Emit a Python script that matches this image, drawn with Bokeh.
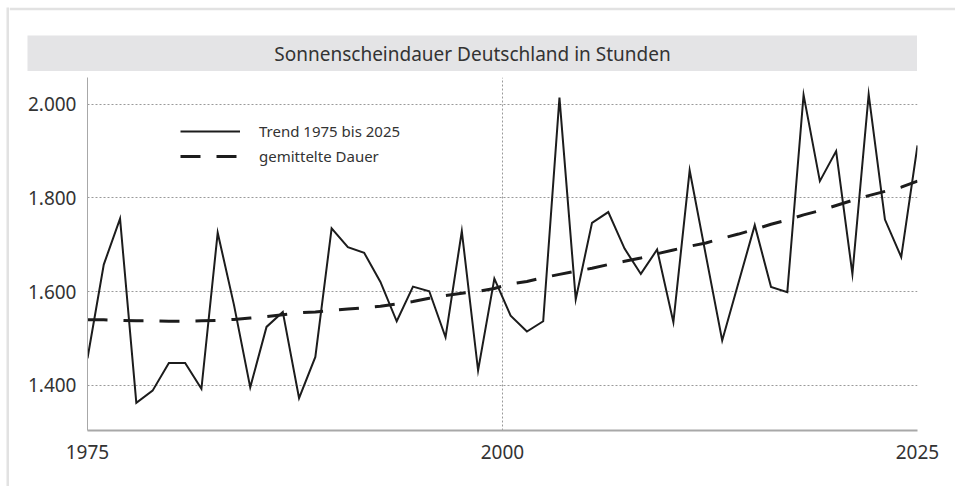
from bokeh.plotting import figure
from bokeh.models import Range1d, FixedTicker, Legend, LegendItem, Column, Row
from bokeh.core.properties import value
from bokeh.embed import file_html
from bokeh.resources import INLINE

# ---- data ----
title_text = "Sonnenscheindauer Deutschland in Stunden"
years = list(range(1974, 2026))
sunshine = [1458, 1658, 1756, 1363, 1389, 1448, 1448, 1393, 1726, 1572,
            1396, 1525, 1557, 1373, 1461, 1735, 1695, 1683, 1621, 1537,
            1611, 1601, 1503, 1729, 1432, 1628, 1549, 1515, 1537, 2014,
            1584, 1747, 1770, 1692, 1638, 1690, 1535, 1859, 1677, 1496,
            1619, 1742, 1610, 1599, 2020, 1836, 1900, 1638, 2021, 1754,
            1674, 1912]
trend = [1540, 1540, 1539, 1538, 1538, 1537, 1537, 1538, 1539, 1541,
         1544, 1547, 1551, 1555, 1557, 1560, 1563, 1566, 1569, 1574,
         1579, 1586, 1592, 1597, 1601, 1607, 1617, 1622, 1630, 1637,
         1644, 1650, 1658, 1665, 1672, 1681, 1689, 1697, 1704, 1714,
         1723, 1733, 1744, 1753, 1764, 1773, 1784, 1795, 1805, 1814,
         1823, 1836]
legend_labels = ["Trend 1975 bis 2025", "gemittelte Dauer"]
y_ticks = [1400, 1600, 1800, 2000]
y_tick_labels = ["1.400", "1.600", "1.800", "2.000"]
x_tick_positions = [1974, 1999.5, 2025]
x_tick_labels = ["1975", "2000", "2025"]

FONT = "Noto Sans"
TXT = "#333333"
FRAME_GREY = "#e2e2e2"
BAND_GREY = "#e4e4e6"


def blank(width, height, color, border_color=None, top=0, **kw):
    f = figure(width=width, height=height, x_range=Range1d(0, 1),
               y_range=Range1d(0, 1), output_backend="svg",
               toolbar_location=None, x_axis_location=None,
               y_axis_location=None, min_border=0, min_border_left=0,
               min_border_right=0, min_border_top=top, min_border_bottom=0,
               background_fill_color=color,
               border_fill_color=border_color or color,
               outline_line_color=None, **kw)
    f.grid.visible = False
    return f


# ---- card frame: grey left line, and grey top line above a white header ----
left_strip = blank(3, 479, FRAME_GREY)
header = blank(946, 28, "white", border_color=FRAME_GREY, top=3)

# ---- title band ----
band = blank(890, 36, BAND_GREY, margin=(0, 0, 0, 18))
band.text(x=[0.5], y=[0.5], text=[title_text], text_align="center",
          text_baseline="middle", text_font=value(FONT),
          text_font_size="19px", text_color=TXT)

# ---- main chart ----
p = figure(width=938, height=399,
           x_range=Range1d(1974, 2025), y_range=Range1d(1304, 2057),
           output_backend="svg", toolbar_location=None,
           min_border_left=78, min_border_right=30,
           min_border_top=6, min_border_bottom=40,
           outline_line_color=None, background_fill_color="white")

l_trend = p.line(years, sunshine, line_color="#1c1c1c", line_width=2,
                 line_join="miter")
l_avg = p.line(years, trend, line_color="#1c1c1c", line_width=3,
               line_dash="20 16")

p.xaxis.ticker = FixedTicker(ticks=x_tick_positions)
p.xaxis.major_label_overrides = dict(zip(x_tick_positions, x_tick_labels))
p.yaxis.ticker = FixedTicker(ticks=y_ticks)
p.yaxis.major_label_overrides = dict(zip(y_ticks, y_tick_labels))

for ax in (p.xaxis[0], p.yaxis[0]):
    ax.major_tick_line_color = None
    ax.minor_tick_line_color = None
    ax.major_label_text_font = FONT
    ax.major_label_text_font_size = "19px"
    ax.major_label_text_color = TXT
p.xaxis.axis_line_color = "#a8a8a8"
p.xaxis.axis_line_width = 2
p.yaxis.axis_line_color = "#a8a8a8"
p.yaxis.axis_line_width = 1
p.xaxis.major_label_standoff = 8
p.yaxis.major_label_standoff = 5

p.ygrid.ticker = FixedTicker(ticks=y_ticks)
p.xgrid.ticker = FixedTicker(ticks=x_tick_positions[1:])
for g in (p.xgrid[0], p.ygrid[0]):
    g.grid_line_color = "#9a9a9a"
    g.grid_line_dash = "2 2"
    g.grid_line_width = 1

legend = Legend(items=[LegendItem(label=legend_labels[0], renderers=[l_trend]),
                       LegendItem(label=legend_labels[1], renderers=[l_avg])],
                location=(93, 264), orientation="vertical",
                glyph_width=60, glyph_height=20, label_height=20,
                label_standoff=19, spacing=5, padding=0, margin=0,
                border_line_color=None, background_fill_alpha=0,
                label_text_font=FONT, label_text_font_size="15px",
                label_text_color=TXT)
p.add_layout(legend)

layout = Row(left_strip,
             Column(Row(header), Row(band), Row(p), spacing=0),
             spacing=0, margin=(7, 0, 0, 6))

open("out.html", "w").write(file_html(layout, INLINE))
